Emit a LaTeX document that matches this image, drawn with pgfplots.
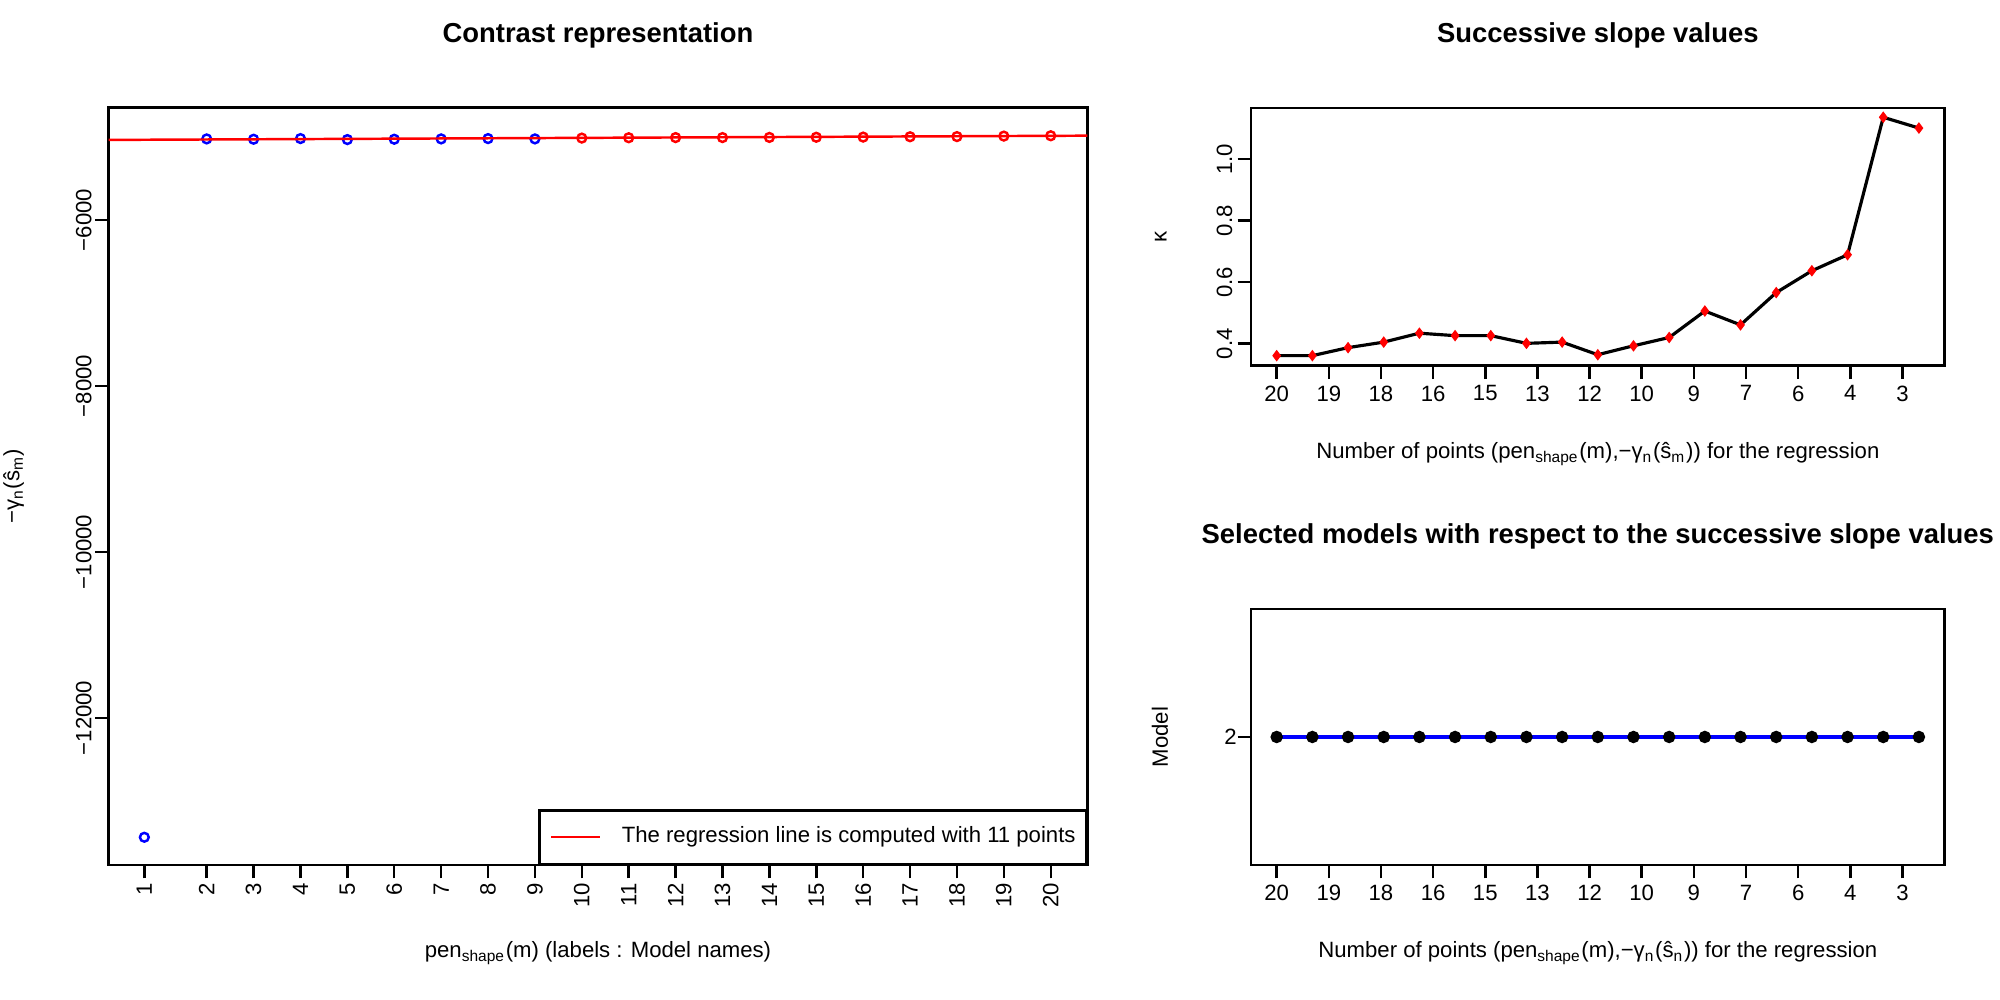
\documentclass[border=0pt]{standalone}
\usepackage{fontspec}
\setmainfont{Liberation Sans}
\usepackage{pgfplots}
\pgfplotsset{compat=1.18}
\newcommand{\lab}{\fontsize{6.3}{7.5}\selectfont}
\pgfplotsset{
  rstyle/.style={
    scale only axis,
    anchor=south west,
    scaled ticks=false,
    axis line style={line width=0.7pt, black},
    tick align=outside,
    tick pos=left,
    major tick style={line width=0.7pt, black},
    major tick length=1.35mm,
    minor tick num=0,
    clip mode=individual,
    title style={at={(axis description cs:0.5,1)}, anchor=base, yshift=4.4mm, font=\bfseries\fontsize{7.8}{9}\selectfont},
    xlabel style={at={(axis description cs:0.5,0)}, anchor=base, yshift=-9.3mm, font=\lab},
    ylabel style={anchor=base, font=\lab},
    tick label style={font=\lab},
  }
}
\begin{document}
\begin{tikzpicture}
\useasboundingbox (0,0) rectangle (200mm,100mm);

% ---------------- Left panel ----------------
\begin{axis}[rstyle,
  at={(10.87mm,13.5mm)}, width=97.86mm, height=75.75mm,
  xmin=0.24, xmax=21.11, ymin=-13771, ymax=-4645,
  xtick={1,2.33,3.33,4.33,5.33,6.33,7.33,8.33,9.33,10.33,11.33,12.33,13.33,14.33,15.33,16.33,17.33,18.33,19.33,20.33},
  xticklabels={1,2,3,4,5,6,7,8,9,10,11,12,13,14,15,16,17,18,19,20},
  ytick={-12000,-10000,-8000,-6000},
  yticklabels={−12000,−10000,−8000,−6000},
  xticklabel style={rotate=90, anchor=east, inner sep=0.4mm},
  yticklabel style={rotate=90, anchor=south, inner sep=0.3mm},
  title={Contrast representation},
  xlabel={pen\textsubscript{shape}(m) (labels : Model names)},
  ylabel={−γ\textsubscript{n}(ŝ\textsubscript{m})},
  ylabel style={at={(axis description cs:-0.0914,0.5)}},
  legend style={at={(1,0)}, anchor=south east, draw=black, line width=0.7pt,
    inner xsep=1.05mm, inner ysep=1.59mm, column sep=2.1mm, font=\lab,
    nodes={inner sep=0pt}},
  legend cell align=left,
]
\addplot[only marks, blue, mark=o, mark size=0.44mm, mark options={line width=0.7pt}, forget plot]
  coordinates {(1,-13437) (2.33,-5024) (3.33,-5028) (4.33,-5020) (5.33,-5032) (6.33,-5028) (7.33,-5024) (8.33,-5020) (9.33,-5024)};
\addplot[only marks, red, mark=o, mark size=0.44mm, mark options={line width=0.7pt}, forget plot]
  coordinates {(10.33,-5014) (11.33,-5010) (12.33,-5008) (13.33,-5008) (14.33,-5006) (15.33,-5004) (16.33,-5002) (17.33,-4998) (18.33,-4996) (19.33,-4990) (20.33,-4986)};
\addplot[red, line width=0.7pt, no marks,
  legend image code/.code={\path (0mm,0mm) -- (0.98mm,0mm); \draw[red, line width=0.7pt] (0.98mm,0mm) -- (4.84mm,0mm);}]
  coordinates {(0.24,-5036) (21.11,-4985)};
\addlegendentry{The regression line is computed with 11 points}
\end{axis}

% ---------------- Top right panel ----------------
\begin{axis}[rstyle,
  at={(125.1mm,63.43mm)}, width=69.36mm, height=25.79mm,
  xmin=0.28, xmax=19.72, ymin=0.3284, ymax=1.167,
  xtick={1,2.4615,3.9231,5.3846,6.8462,8.3077,9.7692,11.2308,12.6923,14.1538,15.6154,17.0769,18.5385},
  xticklabels={20,19,18,16,15,13,12,10,9,7,6,4,3},
  ytick={0.4,0.6,0.8,1.0},
  yticklabels={0.4,0.6,0.8,1.0},
  xticklabel style={anchor=north, inner sep=0.58mm},
  yticklabel style={rotate=90, anchor=south, inner sep=0.45mm},
  title={Successive slope values},
  xlabel={Number of points (pen\textsubscript{shape}(m),−γ\textsubscript{n}(ŝ\textsubscript{m})) for the regression},
  ylabel={κ},
  ylabel style={at={(axis description cs:-0.1215,0.5)}},
]
\addplot[black, line width=0.9pt, mark=diamond*, mark size=0.5mm, mark options={red, fill=red, line width=0.3pt}]
  coordinates {(1,0.361) (2,0.361) (3,0.387) (4,0.405) (5,0.434) (6,0.426) (7,0.426) (8,0.401) (9,0.405) (10,0.364)
  (11,0.393) (12,0.420) (13,0.506) (14,0.461) (15,0.566) (16,0.637) (17,0.689) (18,1.136) (19,1.101)};
\end{axis}

% ---------------- Bottom right panel ----------------
\begin{axis}[rstyle,
  at={(125.1mm,13.5mm)}, width=69.36mm, height=25.6mm,
  xmin=0.28, xmax=19.72, ymin=1.5, ymax=2.5,
  xtick={1,2.4615,3.9231,5.3846,6.8462,8.3077,9.7692,11.2308,12.6923,14.1538,15.6154,17.0769,18.5385},
  xticklabels={20,19,18,16,15,13,12,10,9,7,6,4,3},
  ytick={2}, yticklabels={2},
  xticklabel style={anchor=north, inner sep=0.58mm},
  yticklabel style={anchor=east, inner sep=0pt},
  title={Selected models with respect to the successive slope values},
  xlabel={Number of points (pen\textsubscript{shape}(m),−γ\textsubscript{n}(ŝ\textsubscript{n})) for the regression},
  ylabel={Model},
  ylabel style={at={(axis description cs:-0.12,0.5)}},
]
\addplot[blue, line width=1.1pt, mark=*, mark size=0.42mm, mark options={black, fill=black}]
  coordinates {(1,2) (2,2) (3,2) (4,2) (5,2) (6,2) (7,2) (8,2) (9,2) (10,2)
  (11,2) (12,2) (13,2) (14,2) (15,2) (16,2) (17,2) (18,2) (19,2)};
\end{axis}
\end{tikzpicture}
\end{document}
